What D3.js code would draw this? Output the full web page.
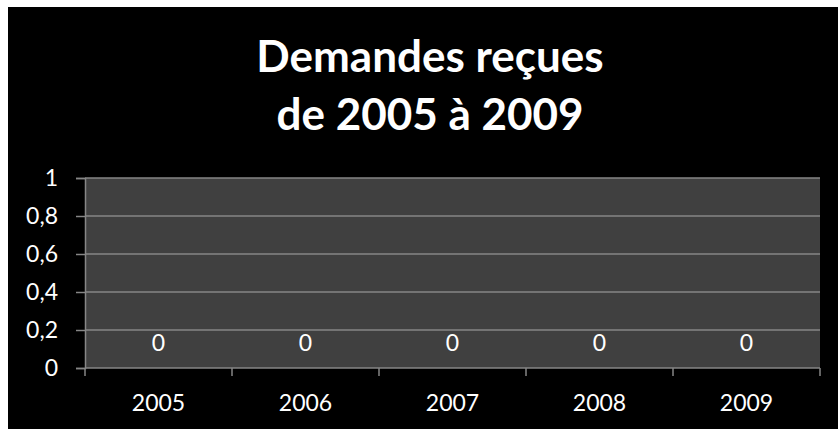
<!DOCTYPE html>
<html><head><meta charset="utf-8">
<script src="https://cdn.jsdelivr.net/npm/d3@7/dist/d3.min.js"></script>
<style>
html,body{margin:0;padding:0;background:#fff;}
svg{display:block;}
</style></head>
<body>
<script>
const titleLines = ["Demandes reçues", "de 2005 à 2009"];
const categories = ["2005", "2006", "2007", "2008", "2009"];
const values = [0, 0, 0, 0, 0];
const yTicks = [0, 0.2, 0.4, 0.6, 0.8, 1];
const yTickLabels = ["0", "0,2", "0,4", "0,6", "0,8", "1"];

const W = 838, H = 429;
const svg = d3.select("body").append("svg").attr("width", W).attr("height", H);
svg.append("rect").attr("x", 8).attr("y", 7).attr("width", W - 8).attr("height", H - 7).attr("fill", "#000");

const font = "Lato, 'Open Sans', sans-serif";
const m = {left: 85, right: 820, top: 178, bottom: 368};
const fs = 23;

// Title
const t = svg.append("text").attr("fill", "#fff").attr("font-family", font)
  .attr("font-weight", "bold").attr("font-size", 44).attr("text-anchor", "middle");
titleLines.forEach((l, i) => t.append("tspan").attr("x", 430).attr("y", 72 + i * 58).text(l));

const x = d3.scaleBand().domain(categories).range([m.left, m.right]).padding(0);
const y = d3.scaleLinear().domain([0, 1]).range([m.bottom, m.top]);

svg.append("rect").attr("x", m.left).attr("y", m.top).attr("width", m.right - m.left)
  .attr("height", m.bottom - m.top).attr("fill", "#404040");

// gridlines
svg.append("g").selectAll("line").data(yTicks.filter(d => d > 0)).join("line")
  .attr("x1", m.left).attr("x2", m.right).attr("y1", d => y(d)).attr("y2", d => y(d))
  .attr("stroke", "#868686").attr("stroke-width", 1.5);

// bars (zero height)
svg.append("g").selectAll("rect").data(values).join("rect")
  .attr("x", (d, i) => x(categories[i]) + x.bandwidth() * 0.2)
  .attr("width", x.bandwidth() * 0.6)
  .attr("y", d => y(d)).attr("height", d => y(0) - y(d)).attr("fill", "#4f81bd");

// y axis
const yAxis = d3.axisLeft(y).tickValues(yTicks).tickFormat((d, i) => yTickLabels[i]).tickSizeOuter(0).tickSize(9).tickPadding(18);
const gy = svg.append("g").attr("transform", `translate(${m.left},0)`).call(yAxis);
gy.selectAll("path,line").attr("stroke", "#868686").attr("stroke-width", 1.5);
gy.selectAll("text").attr("fill", "#fff").attr("font-family", font).attr("font-size", fs);

// x axis
const xb = d3.scaleLinear().domain([0, categories.length]).range([m.left, m.right]);
const gx = svg.append("g").attr("transform", `translate(0,${m.bottom})`);
gx.append("line").attr("x1", m.left).attr("x2", m.right).attr("stroke", "#868686").attr("stroke-width", 1.5);
gx.selectAll("line.tk").data(d3.range(categories.length + 1)).join("line").attr("class", "tk")
  .attr("x1", d => xb(d)).attr("x2", d => xb(d)).attr("y1", 0).attr("y2", 8)
  .attr("stroke", "#868686").attr("stroke-width", 1.5);
gx.selectAll("text").data(categories).join("text")
  .attr("x", d => x(d) + x.bandwidth() / 2).attr("y", 34).attr("text-anchor", "middle")
  .attr("dominant-baseline", "central")
  .attr("fill", "#fff").attr("font-family", font).attr("font-size", fs).text(d => d);

// data labels
svg.append("g").selectAll("text").data(values).join("text")
  .attr("x", (d, i) => x(categories[i]) + x.bandwidth() / 2)
  .attr("y", d => y(d) - 26).attr("text-anchor", "middle").attr("dominant-baseline", "central")
  .attr("fill", "#fff").attr("font-family", font).attr("font-size", fs).text(d => String(d));
</script>
</body></html>
